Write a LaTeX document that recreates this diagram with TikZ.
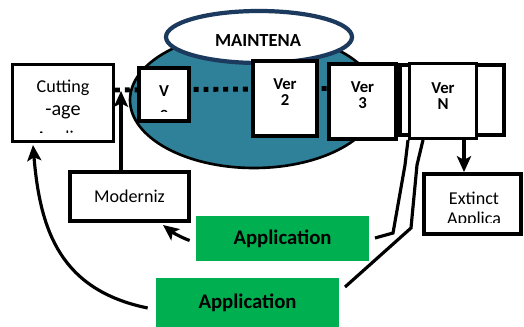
\documentclass[tikz,border=0pt]{standalone}
\usepackage{fontspec}
\setmainfont{Carlito}
\usetikzlibrary{arrows.meta,shapes.geometric}
\definecolor{tealfill}{HTML}{2F8199}
\definecolor{navyline}{HTML}{1B3A5E}
\definecolor{grn}{HTML}{00B050}
\tikzset{
  pbox/.style 2 args={minimum width=#1*0.02cm, minimum height=#2*0.02cm, inner sep=0pt},
  wbox/.style={draw=black, line width=2.2pt, fill=white},
  gbox/.style={fill=grn, draw=none, font=\bfseries\fontsize{11.8}{13}\selectfont},
  conn/.style={draw=black, line width=1.8pt},
  arr/.style={conn, -{Stealth[length=9pt,width=8pt,inset=2pt]}},
  vtxt/.style={font=\bfseries\fontsize{9.5}{11}\selectfont, align=center},
  ntxt/.style={font=\fontsize{10.3}{12}\selectfont, align=center}
}
\begin{document}
\begin{tikzpicture}[x=0.02cm,y=-0.02cm]
\useasboundingbox (0,0) rectangle (524,327);
% maintenance ellipse
\node[draw=black, line width=1.5pt, fill=tealfill, ellipse, minimum width=248*0.02cm, minimum height=136*0.02cm, inner sep=0pt] (big) at (254,100) {};
\node[draw=navyline, line width=2.4pt, fill=white, ellipse, minimum width=186*0.02cm, minimum height=52*0.02cm, inner sep=0pt] (top) at (259,37) {};
\node[font=\bfseries\fontsize{10.5}{12}\selectfont] (maint) at (258,41) {MAINTENA};
% dotted version line (behind boxes)
\coordinate (dotA) at (115,90);
\coordinate (dotB) at (400,88);
\draw[line width=2.8pt, dash pattern=on 2.8pt off 2.8pt, dash phase=0pt] (dotA) -- (dotB);
% boxes
\node[wbox, pbox={101}{77}] (cut) at (63,103) {};
\begin{scope}
\clip (13,65) rectangle (113,133);
\node[ntxt, font=\fontsize{10.3}{14}\selectfont] (cutt) at (63,88) {Cutting};
\node[ntxt, font=\fontsize{11.5}{14}\selectfont] (age) at (63,112) {-age};
\node[ntxt, font=\fontsize{10.3}{14}\selectfont] (app3) at (63,139) {Applica};
\end{scope}
\node[wbox, pbox={50}{53}] (vbox) at (164,94.5) {};
\begin{scope}
\clip (140,69) rectangle (188,112);
\node[vtxt] (vv) at (164,91) {V};
\node[vtxt] (ve) at (164,114) {e};
\end{scope}
\node[wbox, pbox={64}{75}] (ver2) at (285,98.5) {};
\node[vtxt] (ver2t) at (285,92) {Ver\\[-2pt]2};
\node[wbox, pbox={67}{75}] (ver3) at (362.5,101.5) {};
\node[vtxt] (ver3t) at (362.5,95) {Ver\\[-2pt]3};
\node[wbox, pbox={104}{70}] (back) at (452,100) {};
\node[wbox, pbox={67}{75}] (verN) at (443,101) {};
\node[vtxt] (verNt) at (443,96) {Ver\\[-2pt]N};
\node[wbox, pbox={97}{60}] (ext) at (472.5,204) {};
\begin{scope}
\clip (425,175) rectangle (520,223);
\node[ntxt] (extt) at (474,198) {Extinct};
\node[ntxt] (exta) at (474,220) {Applica};
\end{scope}
\node[wbox, pbox={119}{49}, ntxt] (mod) at (129.5,196.5) {Moderniz};
\node[gbox, pbox={173}{45}] (g1) at (282.5,238.5) {Application};
\node[gbox, pbox={183}{50}] (g2) at (247.5,303) {Application};
% connectors
\draw[arr] (mod.north -| 121,0) -- (121,91);
\draw[arr] (verN.south -| 464,0) -- (ext.north -| 464,0);
\draw[arr] (g1.west) ++(-6,2) .. controls (180,237) and (172,232) .. (163,225);
\draw[arr] (g2.west) ++(-8,5) .. controls (60,290) and (40,230) .. (33,145);
\coordinate (n1) at (408,140);
\coordinate (n2) at (423,140);
\draw[conn] (n1) -- (405,165) -- (393,233) -- (375,238);
\draw[conn] (n2) -- (417,165) -- (411,228) -- (345,287);
\end{tikzpicture}
\end{document}
